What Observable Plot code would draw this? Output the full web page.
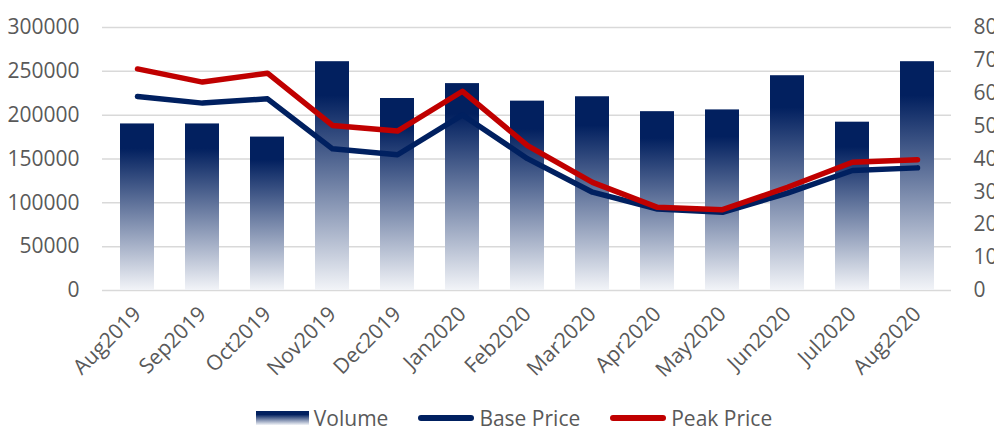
<!DOCTYPE html>
<html>
<head>
<meta charset="utf-8">
<script src="https://cdn.jsdelivr.net/npm/d3@7"></script>
<script src="https://cdn.jsdelivr.net/npm/@observablehq/plot@0.6"></script>
<style>
  html, body { margin: 0; padding: 0; background: #fff; }
  #chart { width: 994px; height: 428px; font-family: "Open Sans", sans-serif; }
  .legend { display: flex; justify-content: center; align-items: center; height: 26px; font-size: 21px; color: #595959; margin-left: 34px; margin-top: 3px; }
  .legend .item { display: flex; align-items: center; margin: 0 15px; }
  .legend .sw { display: inline-block; margin-right: 5px; }
</style>
</head>
<body>
<div id="chart"></div>
<script>
const months = ["Aug2019","Sep2019","Oct2019","Nov2019","Dec2019","Jan2020","Feb2020","Mar2020","Apr2020","May2020","Jun2020","Jul2020","Aug2020"];
const volume = [190000,190000,175000,261000,219000,236000,216000,221000,204000,206000,245000,192000,261000];
const basePrice = [59.0,57.0,58.3,43.1,41.3,53.4,40.1,29.9,24.8,23.8,29.6,36.5,37.3];
const peakPrice = [67.4,63.4,66.1,50.2,48.5,60.6,44.1,32.9,25.3,24.6,31.4,39.0,39.8];
const leftTicks = [0,50000,100000,150000,200000,250000,300000];
const rightTicks = [0,10,20,30,40,50,60,70,80];

const volMax = 300000, priceMax = 80;
const k = volMax / priceMax;

const data = months.map((m, i) => ({month: m, volume: volume[i], base: basePrice[i], peak: peakPrice[i]}));

const svg = Plot.plot({
  width: 994,
  height: 402,
  marginLeft: 102,
  marginRight: 43,
  marginTop: 27,
  marginBottom: 112,
  style: {fontFamily: "Open Sans, sans-serif", fontSize: "21px", color: "#595959", background: "#fff"},
  x: {domain: months, paddingInner: 0.48, paddingOuter: 0.24, label: null},
  y: {domain: [0, volMax], label: null},
  marks: [
    Plot.ruleY(leftTicks, {stroke: "#d9d9d9", strokeWidth: 1.5}),
    Plot.barY(data, {x: "month", y: "volume", fill: "url(#volGrad)"}),
    Plot.lineY(data, {x: "month", y: d => d.base * k, stroke: "#002060", strokeWidth: 5.5, strokeLinecap: "round", strokeLinejoin: "round"}),
    Plot.lineY(data, {x: "month", y: d => d.peak * k, stroke: "#C00000", strokeWidth: 5.5, strokeLinecap: "round", strokeLinejoin: "round"}),
    Plot.axisY({ticks: leftTicks, tickSize: 0, tickPadding: 23, tickFormat: d => String(d), label: null, fill: "#595959"}),
    Plot.axisY({anchor: "right", ticks: rightTicks.map(t => t * k), tickSize: 0, tickPadding: 22, tickFormat: d => String(Math.round(d / k)), label: null, fill: "#595959"}),
    Plot.axisX({tickRotate: -45, tickSize: 0, tickPadding: 20, label: null, fill: "#595959"})
  ]
});

const defs = d3.select(svg).insert("defs", ":first-child");
const g = defs.append("linearGradient").attr("id", "volGrad").attr("x1", 0).attr("y1", 0).attr("x2", 0).attr("y2", 1);
g.append("stop").attr("offset", "0%").attr("stop-color", "#02205f");
g.append("stop").attr("offset", "15%").attr("stop-color", "#02205f");
g.append("stop").attr("offset", "100%").attr("stop-color", "#f2f4f8");

document.getElementById("chart").appendChild(svg);

const legend = document.createElement("div");
legend.className = "legend";
legend.innerHTML = `
  <span class="item"><span class="sw" style="width:53px;height:14px;background:linear-gradient(#02205f 0%, #02205f 25%, #f2f4f8 100%)"></span>Volume</span>
  <span class="item"><span class="sw" style="width:56px;height:6px;border-radius:3px;background:#002060"></span>Base Price</span>
  <span class="item"><span class="sw" style="width:56px;height:6px;border-radius:3px;background:#C00000"></span>Peak Price</span>`;
document.getElementById("chart").appendChild(legend);
</script>
</body>
</html>
